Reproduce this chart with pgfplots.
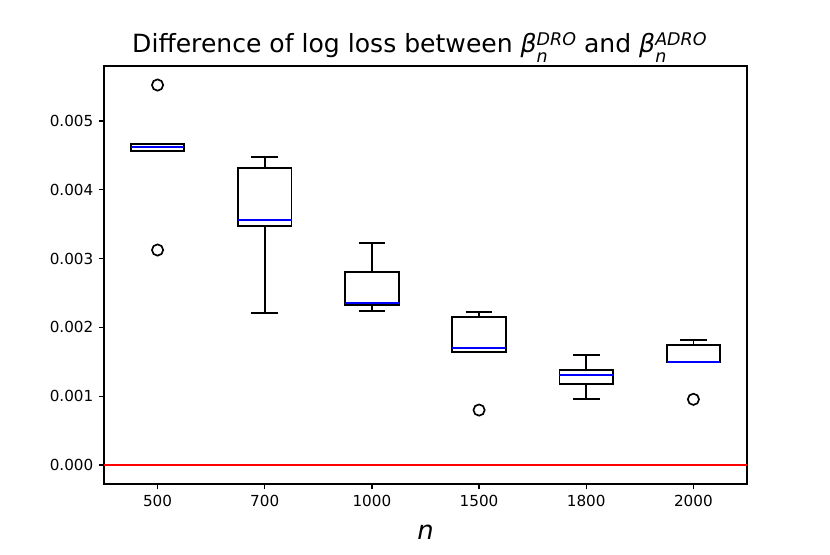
\documentclass[border=0pt]{standalone}
\usepackage{fontspec}
\setmainfont{DejaVu Sans}
\usepackage{pgfplots}
\pgfplotsset{compat=1.18}
\usepgfplotslibrary{statistics}

\newcommand{\bsub}[1]{\textit{β}\makebox[0pt][l]{\raisebox{-0.4em}{\fontsize{11.5}{12}\selectfont\textit{n}}}\raisebox{0.3em}{\fontsize{11.5}{12}\selectfont\textit{#1}}}

% values are in units of 0.001
\begin{document}
\begin{tikzpicture}
\begin{axis}[
  scale only axis, width=423pt, height=275pt,
  xmin=0.5, xmax=6.5, ymin=-0.276, ymax=5.8,
  xtick={1,2,3,4,5,6}, xticklabels={500,700,1000,1500,1800,2000},
  ytick={0,1,2,3,4,5},
  yticklabels={0.000,0.001,0.002,0.003,0.004,0.005},
  scaled y ticks=false,
  tick align=outside, tick pos=left,
  major tick length=3.5pt,
  every tick/.style={black, line width=0.8pt},
  axis line style={line width=0.8pt},
  title={\fontsize{16.5}{19}\selectfont Difference of log loss between \bsub{DRO} and \bsub{ADRO}},
  title style={at={(0.5,1)}, anchor=base, yshift=2.8pt, xshift=-4pt, inner sep=0pt},
  xlabel={\fontsize{17}{20}\selectfont\textit{n}},
  xlabel style={at={(0.5,0)}, anchor=base, yshift=-36.2pt, inner sep=0pt},
  boxplot/draw direction=y,
  boxplot/every box/.style={draw=black, line width=1.2pt},
  boxplot/every whisker/.style={draw=black, line width=1.2pt},
  boxplot/every median/.style={draw=blue, line width=1.2pt},
  boxplot/box extend=0.5,
  boxplot/whisker extend=0.25,
  bx/.style={black, line width=1.2pt, solid, mark=o, mark size=3.7pt, mark options={black, line width=1.1pt, solid}},
]
\addplot[red, line width=1.1pt] coordinates {(0.5,0) (6.5,0)};

\addplot[bx,
  boxplot prepared={draw position=1, median=4.627, upper quartile=4.666, lower quartile=4.568, upper whisker=4.666, lower whisker=4.568}]
  table[row sep=\\, y index=0] {data\\ 5.523\\ 3.125\\};

\addplot[bx,
  boxplot prepared={draw position=2, median=3.565, upper quartile=4.313, lower quartile=3.469, upper whisker=4.481, lower whisker=2.205}]
  coordinates {};

\addplot[bx,
  boxplot prepared={draw position=3, median=2.355, upper quartile=2.805, lower quartile=2.330, upper whisker=3.231, lower whisker=2.238}]
  coordinates {};

\addplot[bx,
  boxplot prepared={draw position=4, median=1.696, upper quartile=2.156, lower quartile=1.638, upper whisker=2.224, lower whisker=1.638}]
  table[row sep=\\, y index=0] {data\\ 0.799\\};

\addplot[bx,
  boxplot prepared={draw position=5, median=1.308, upper quartile=1.376, lower quartile=1.173, upper whisker=1.594, lower whisker=0.959}]
  coordinates {};

\addplot[bx,
  boxplot prepared={draw position=6, median=1.501, upper quartile=1.749, lower quartile=1.493, upper whisker=1.813, lower whisker=1.493}]
  table[row sep=\\, y index=0] {data\\ 0.955\\};
\end{axis}
\pgfresetboundingbox
\path[use as bounding box] ([shift={(-68.4pt,-46.1pt)}]current axis.south west) rectangle ([shift={(54.6pt,43.4pt)}]current axis.north east);
\end{tikzpicture}
\end{document}
